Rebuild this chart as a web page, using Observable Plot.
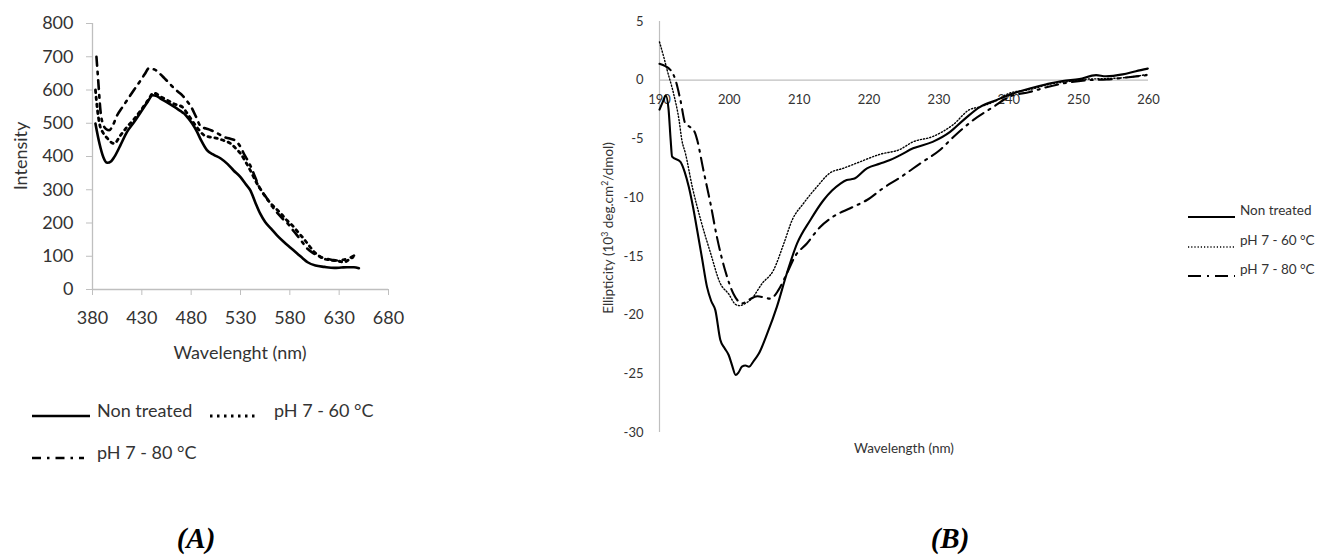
<!DOCTYPE html>
<html>
<head>
<meta charset="utf-8">
<script src="https://cdn.jsdelivr.net/npm/d3@7"></script>
<script src="https://cdn.jsdelivr.net/npm/@observablehq/plot@0.6"></script>
<style>
  html, body { margin: 0; padding: 0; background: #fff; }
  #root { position: relative; width: 1320px; height: 560px; overflow: hidden; font-family: Lato, "Open Sans", sans-serif; color: #333; }
  .abs { position: absolute; white-space: nowrap; }
  .c { transform: translate(-50%, -50%); }
  .rot { transform: translate(-50%, -50%) rotate(-90deg); }
  .panel { position: absolute; top: 0; }
  .tag { font-family: "Liberation Serif", "DejaVu Serif", serif; font-weight: bold; font-style: italic; font-size: 29px; line-height: 1; color: #000; }
</style>
</head>
<body>
<div id="root"></div>
<script>
// ---------- Data: panel A (fluorescence) ----------
const seriesNames = ["Non treated", "pH 7 - 60 °C", "pH 7 - 80 °C"];

const fluoNonTreated = [[383,499],[387,440],[391,398],[395,381],[399,386],[402,398],[408,432],[415,474],[422,503],[429,534],[436,565],[441,584],[445,582],[449,574],[456,562],[463,549],[469,537],[473,529],[477,515],[481,499],[486,474],[490,449],[496,419],[503,405],[510,394],[517,377],[523,358],[530,338],[535,318],[540,298],[545,262],[550,228],[555,203],[561,183],[567,163],[574,143],[581,125],[588,107],[593,94],[598,82],[606,72],[615,68],[625,65],[632,66],[638,67],[645,67],[650,64]];
const fluoPH60 = [[383,600],[385,540],[387,500],[391,470],[395,455],[398,445],[402,439],[408,462],[415,489],[422,512],[429,539],[436,568],[442,591],[449,580],[456,569],[463,558],[471,549],[477,525],[483,499],[488,480],[493,464],[500,458],[507,454],[513,448],[520,439],[525,425],[530,409],[535,385],[540,358],[545,328],[551,298],[556,276],[561,258],[566,243],[571,228],[577,208],[584,188],[589,170],[594,153],[600,130],[605,112],[610,100],[615,92],[620,89],[625,87],[630,85],[635,82],[639,88],[644,97]];
const fluoPH80 = [[384,700],[386,620],[388,540],[391,495],[394,482],[397,479],[400,490],[405,524],[410,547],[415,569],[422,600],[429,630],[433,648],[437,665],[441,663],[444,660],[449,647],[453,635],[458,620],[463,604],[467,594],[471,584],[476,566],[480,549],[485,519],[490,489],[495,484],[500,479],[507,469],[513,459],[519,454],[524,449],[530,429],[534,405],[539,379],[544,344],[549,308],[553,290],[557,273],[562,250],[568,228],[573,212],[578,198],[584,175],[590,153],[594,137],[598,122],[603,111],[608,102],[613,96],[618,92],[623,89],[628,87],[633,89],[638,92],[645,102]];
const xTicksA = [380, 430, 480, 530, 580, 630, 680];
const yTicksA = [0, 100, 200, 300, 400, 500, 600, 700, 800];

// ---------- Data: panel B (circular dichroism) ----------
const cdNonTreated = [[190,-2.5],[190.5,-1.8],[190.9,-1.3],[191.3,-2.5],[191.6,-5.1],[191.8,-6.5],[193,-6.95],[193.6,-7.8],[194.2,-9.1],[194.8,-10.8],[195.4,-12.8],[196.1,-15.2],[196.8,-17.6],[197.4,-18.8],[198,-19.6],[198.7,-22.1],[199.3,-22.8],[199.9,-23.4],[200.4,-24.3],[200.9,-25.1],[201.3,-24.9],[201.8,-24.4],[202.3,-24.3],[202.8,-24.4],[203.5,-23.9],[204.2,-23.3],[205.4,-21.6],[206.8,-19.3],[208.2,-16.5],[209.7,-13.9],[211.6,-11.9],[213.5,-10.2],[214.7,-9.4],[215.9,-8.8],[216.8,-8.5],[217.8,-8.4],[219.7,-7.5],[221.6,-7.1],[223,-6.8],[224.4,-6.4],[226.3,-5.8],[229.1,-5.25],[231.6,-4.4],[233.5,-3.4],[235.9,-2.27],[238.2,-1.7],[240.6,-1.13],[243,-0.7],[245.4,-0.34],[247.7,-0.06],[250.1,0.09],[252.5,0.43],[253.9,0.34],[256.3,0.5],[258.2,0.77],[259.9,0.99]];
const cdPH60 = [[190,3.26],[190.6,2],[191.1,0.85],[192,-1.1],[192.8,-3.4],[193.2,-5.1],[193.7,-6.2],[194.7,-9.1],[195.9,-11.9],[197.3,-14.7],[198.7,-17.3],[199.9,-18.2],[200.9,-19.1],[201.5,-19.2],[202,-19.1],[203.2,-18.6],[204.7,-17.3],[206.3,-16.2],[207.8,-13.9],[209,-11.9],[210.6,-10.5],[212.5,-9.1],[214.4,-7.9],[216.3,-7.5],[218.7,-6.95],[221.6,-6.3],[224.4,-5.9],[226.3,-5.25],[229.1,-4.8],[232,-3.8],[234.4,-2.5],[235.9,-2.27],[237.8,-1.85],[240.1,-1.1],[243,-0.8],[246.3,-0.28],[248.2,-0.14],[251.1,0.09],[254,0.14],[256.8,0.23],[259.9,0.5]];
const cdPH80 = [[190,1.4],[191.6,0.85],[192.3,0],[193,-1.7],[193.7,-3.7],[194.4,-4],[195.1,-4.5],[195.4,-5.1],[196.3,-7.7],[197.3,-10.5],[198.2,-13.3],[199.4,-16.2],[200.6,-18.2],[201.8,-19],[202.8,-18.7],[204,-18.4],[205.9,-18.6],[207,-17.9],[208.2,-16.5],[209.4,-15],[211.1,-13.9],[213,-12.5],[214.9,-11.6],[217.3,-10.9],[219.7,-10.2],[222,-9.2],[224.4,-8.3],[227.3,-7.1],[230.1,-5.96],[232.5,-4.6],[234.9,-3.4],[237.8,-2.27],[240.1,-1.4],[243,-1.0],[245.4,-0.6],[248.2,-0.23],[251.1,0],[254,0.06],[256.8,0.23],[259.8,0.43]];
const xTicksB = [190, 200, 210, 220, 230, 240, 250, 260];
const yTicksB = [5, 0, -5, -10, -15, -20, -25, -30];

// ---------- Styles ----------
const AXIS_GRAY = "#bfbfbf";
const TEXT = "#333";
const dashA = ["none", "2.5,4.5", "9,6,2.5,6"];
const dashB = ["none", "1.2,2", "13,6,2,6"];
const widthA = [2.6, 2.8, 2.6];
const widthB = [2.1, 1.4, 2.1];

const root = document.getElementById("root");

function place(html, cls, x, y, style) {
  const d = document.createElement("div");
  d.className = "abs " + cls;
  d.style.left = x + "px";
  d.style.top = y + "px";
  if (style) Object.assign(d.style, style);
  d.innerHTML = html;
  root.appendChild(d);
  return d;
}

// ---------- Panel A ----------
const fluoSeries = [fluoNonTreated, fluoPH60, fluoPH80];
const plotA = Plot.plot({
  width: 420, height: 370,
  marginLeft: 92, marginRight: 32, marginTop: 23, marginBottom: 81,
  style: {fontFamily: "Lato", fontSize: "18px", color: TEXT, background: "transparent"},
  x: {domain: [380, 680]},
  y: {domain: [0, 800]},
  marks: [
    Plot.ruleY([0], {stroke: AXIS_GRAY, strokeWidth: 1.3}),
    Plot.ruleX([380], {stroke: AXIS_GRAY, strokeWidth: 1.3}),
    Plot.axisX({ticks: xTicksA, tickSize: 6, tickPadding: 16, stroke: AXIS_GRAY, fill: TEXT, label: null, tickFormat: d => String(d)}),
    Plot.axisY({ticks: yTicksA, tickSize: 6, tickPadding: 13, stroke: AXIS_GRAY, fill: TEXT, label: null, tickFormat: d => String(d)}),
    ...fluoSeries.map((s, i) => Plot.line(s, {
      x: d => d[0], y: d => d[1], curve: "monotone-x",
      stroke: "#000", strokeWidth: widthA[i], strokeDasharray: dashA[i]
    }))
  ]
});
plotA.classList.add("panel");
plotA.style.left = "0px";
root.appendChild(plotA);

place("Intensity", "rot", 20, 156, {fontSize: "18px"});
place("Wavelenght (nm)", "c", 240, 352, {fontSize: "18px"});

function swatch(w, dash, sw) {
  return `<svg width="${w}" height="10" style="vertical-align:middle"><line x1="0" x2="${w}" y1="5" y2="5" stroke="#000" stroke-width="${sw}" stroke-dasharray="${dash}"/></svg>`;
}
place(swatch(58, dashA[0], widthA[0]), "", 32, 404);
place(seriesNames[0], "", 97, 398, {fontSize: "18px", lineHeight: "24px"});
place(swatch(48, dashA[1], widthA[1]), "", 210, 404);
place(seriesNames[1], "", 274, 398, {fontSize: "18px", lineHeight: "24px"});
place(swatch(52, dashA[2], widthA[2]), "", 32, 446);
place(seriesNames[2], "", 97, 440, {fontSize: "18px", lineHeight: "24px"});

// ---------- Panel B ----------
const cdSeries = [cdNonTreated, cdPH60, cdPH80];
const plotB = Plot.plot({
  width: 580, height: 460,
  marginLeft: 69, marginRight: 22, marginTop: 21, marginBottom: 28,
  style: {fontFamily: "Lato", fontSize: "13px", color: TEXT, background: "transparent"},
  x: {domain: [190, 260], axis: null},
  y: {domain: [-30, 5]},
  marks: [
    Plot.ruleY([0], {stroke: AXIS_GRAY, strokeWidth: 1.2}),
    Plot.ruleX([190], {stroke: AXIS_GRAY, strokeWidth: 1.2}),
    Plot.axisY({ticks: yTicksB, tickSize: 0, tickPadding: 16, fill: TEXT, label: null, tickFormat: d => String(d)}),
    Plot.text(xTicksB, {x: d => d, y: 0, dy: 20, text: d => String(d), fill: TEXT}),
    ...cdSeries.map((s, i) => Plot.line(s, {
      x: d => d[0], y: d => d[1], curve: "monotone-x",
      stroke: "#000", strokeWidth: widthB[i], strokeDasharray: dashB[i]
    }))
  ]
});
plotB.classList.add("panel");
plotB.style.left = "590px";
root.appendChild(plotB);

place("Ellipticity (10<sup style='font-size:0.65em;vertical-align:0.55em;line-height:0'>3</sup> deg.cm<sup style='font-size:0.65em;vertical-align:0.55em;line-height:0'>2</sup>/dmol)", "rot", 608, 228, {fontSize: "13.5px"});
place("Wavelength (nm)", "c", 904, 448, {fontSize: "13.5px"});

const legBY = [210, 240, 269];
seriesNames.forEach((name, i) => {
  place(swatch(47, dashB[i], widthB[i]), "", 1188, legBY[i] - 5);
  place(name, "", 1240, legBY[i] - 9, {fontSize: "13.5px", lineHeight: "18px"});
});

// ---------- Panel tags ----------
place("(A)", "c tag", 196, 538);
place("(B)", "c tag", 950, 538);
</script>
</body>
</html>
